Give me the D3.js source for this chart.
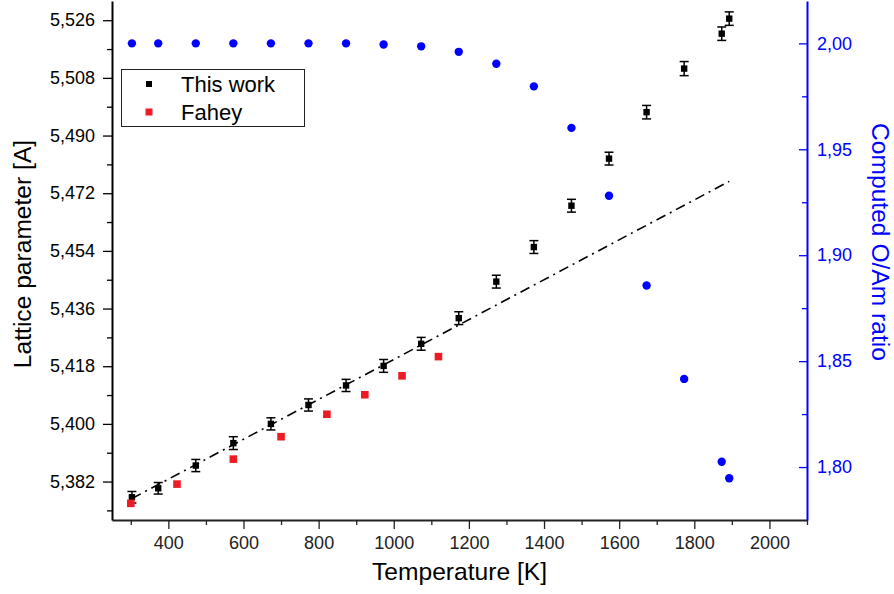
<!DOCTYPE html>
<html>
<head>
<meta charset="utf-8">
<script src="https://cdn.jsdelivr.net/npm/d3@7"></script>
<style>
  html, body { margin: 0; padding: 0; background: #fff; }
  svg { display: block; font-family: "Liberation Sans", Arial, sans-serif; }
</style>
</head>
<body>
<svg id="chart" width="894" height="594"></svg>
<script>
// ---- data ----
const thisWorkT = [303, 373, 473, 573, 673, 773, 873, 973, 1073, 1173, 1273, 1373, 1473, 1573, 1673, 1773, 1873, 1893];
const thisWorkA = [5.3771, 5.3799, 5.3870, 5.3940, 5.4000, 5.4059, 5.4120, 5.4181, 5.4250, 5.4330, 5.4444, 5.4552, 5.4681, 5.4828, 5.4973, 5.5109, 5.5218, 5.5265];
const thisWorkErr = [0.0018, 0.0018, 0.0019, 0.0020, 0.0019, 0.0019, 0.0019, 0.0020, 0.0020, 0.0020, 0.0020, 0.0020, 0.0020, 0.0020, 0.0021, 0.0022, 0.0021, 0.0021];

const faheyT = [300, 423, 573, 700, 822, 923, 1022, 1119];
const faheyA = [5.3752, 5.3812, 5.3890, 5.3960, 5.4030, 5.4091, 5.4150, 5.4210];

const ratioT = [303, 373, 473, 573, 673, 773, 873, 973, 1073, 1173, 1273, 1373, 1473, 1573, 1673, 1773, 1873, 1893];
const ratioV = [2.000, 2.000, 2.000, 2.000, 2.000, 2.000, 2.000, 1.9995, 1.9986, 1.9960, 1.9904, 1.9797, 1.9601, 1.9281, 1.8857, 1.8416, 1.8025, 1.7947];

const fitT = [303, 1893];
const fitA = [5.3767, 5.4757];

const xMajorTicks = [400, 600, 800, 1000, 1200, 1400, 1600, 1800, 2000];
const xMinorTicks = [300, 500, 700, 900, 1100, 1300, 1500, 1700, 1900, 2100];
const yLeftMajorTicks = [5.382, 5.400, 5.418, 5.436, 5.454, 5.472, 5.490, 5.508, 5.526];
const yLeftMinorTicks = [5.373, 5.391, 5.409, 5.427, 5.445, 5.463, 5.481, 5.499, 5.517];
const yRightMajorTicks = [1.80, 1.85, 1.90, 1.95, 2.00];
const yRightMinorTicks = [1.825, 1.875, 1.925, 1.975];

const legendLabels = ["This work", "Fahey"];

// ---- layout ----
const svg = d3.select("#chart");
const L = 112, R = 807, T = 1, B = 520;
const BLUE = "#0000ff", RED = "#ed1c24";

const x = d3.scaleLinear().domain([250, 2100]).range([L, R]);
const yL = d3.scaleLinear().domain([5.370, 5.532]).range([B, T]);
const yR = d3.scaleLinear().domain([1.775, 2.02]).range([B, T]);

const comma = f => v => d3.format(f)(v).replace(".", ",");

// Blue ratio circles
svg.append("g").selectAll("circle").data(ratioT).join("circle")
  .attr("cx", (d) => x(d))
  .attr("cy", (d, i) => yR(ratioV[i]))
  .attr("r", 4.2)
  .attr("fill", BLUE);

// Fit line (dash-dot)
svg.append("path")
  .datum(fitT.map((t, i) => [t, fitA[i]]))
  .attr("d", d3.line().x(d => x(d[0])).y(d => yL(d[1])))
  .attr("fill", "none").attr("stroke", "#000").attr("stroke-width", 1.6)
  .attr("stroke-dasharray", "10,5,2,5");

// This work: error bars + squares
const tw = svg.append("g");
thisWorkT.forEach((t, i) => {
  const cx = x(t), top = yL(thisWorkA[i] + thisWorkErr[i]), bot = yL(thisWorkA[i] - thisWorkErr[i]);
  tw.append("line").attr("x1", cx).attr("x2", cx).attr("y1", top).attr("y2", bot)
    .attr("stroke", "#000").attr("stroke-width", 1.5);
  [top, bot].forEach(yy => tw.append("line").attr("x1", cx - 4.5).attr("x2", cx + 4.5)
    .attr("y1", yy).attr("y2", yy).attr("stroke", "#000").attr("stroke-width", 1.5));
  tw.append("rect").attr("x", cx - 3.2).attr("y", yL(thisWorkA[i]) - 3.2)
    .attr("width", 6.4).attr("height", 6.4).attr("fill", "#000");
});

// Fahey red squares
svg.append("g").selectAll("rect").data(faheyT).join("rect")
  .attr("x", d => x(d) - 3.8)
  .attr("y", (d, i) => yL(faheyA[i]) - 3.8)
  .attr("width", 7.6).attr("height", 7.6)
  .attr("fill", RED);

// ---- axes ----
function styleAxis(g, color, width) {
  g.select(".domain").attr("stroke", color).attr("stroke-width", width);
  g.selectAll(".tick line").attr("stroke", color).attr("stroke-width", 1.3);
  g.selectAll(".tick text").attr("fill", color).style("font-size", "18px")
    .style("font-family", "'Liberation Sans', Arial, sans-serif");
}

// Bottom axis
const gxMinor = svg.append("g").attr("transform", `translate(0,${B})`)
  .call(d3.axisBottom(x).tickValues(xMinorTicks).tickSize(5).tickFormat(""));
gxMinor.select(".domain").remove();
gxMinor.selectAll(".tick line").attr("stroke", "#222").attr("stroke-width", 1.3);
const gx = svg.append("g").attr("transform", `translate(0,${B})`)
  .call(d3.axisBottom(x).tickValues(xMajorTicks).tickSizeInner(9).tickSizeOuter(0).tickPadding(7).tickFormat(d3.format("d")));
styleAxis(gx, "#222", 2);

// Left axis
const gyMinor = svg.append("g").attr("transform", `translate(${L},0)`)
  .call(d3.axisLeft(yL).tickValues(yLeftMinorTicks).tickSize(5).tickFormat(""));
gyMinor.select(".domain").remove();
gyMinor.selectAll(".tick line").attr("stroke", "#000").attr("stroke-width", 1.3);
const gy = svg.append("g").attr("transform", `translate(${L},0)`)
  .call(d3.axisLeft(yL).tickValues(yLeftMajorTicks).tickSizeInner(9).tickSizeOuter(0).tickPadding(8).tickFormat(comma(".3f")));
styleAxis(gy, "#000", 2);

// Right axis (ticks pointing inward)
const grMinor = svg.append("g").attr("transform", `translate(${R},0)`)
  .call(d3.axisRight(yR).tickValues(yRightMinorTicks).tickSize(-5).tickFormat(""));
grMinor.select(".domain").remove();
grMinor.selectAll(".tick line").attr("stroke", BLUE).attr("stroke-width", 1.3);
const gr = svg.append("g").attr("transform", `translate(${R},0)`)
  .call(d3.axisRight(yR).tickValues(yRightMajorTicks).tickSizeInner(-8).tickSizeOuter(0).tickPadding(10).tickFormat(comma(".2f")));
styleAxis(gr, BLUE, 2);

// ---- titles ----
svg.append("text").attr("x", (L + R) / 2).attr("y", 580)
  .attr("text-anchor", "middle").style("font-size", "24.6px").attr("fill", "#000")
  .text("Temperature [K]");

svg.append("text").attr("transform", "translate(31,254) rotate(-90)")
  .attr("text-anchor", "middle").style("font-size", "24.6px").attr("fill", "#000")
  .text("Lattice parameter [A]");

svg.append("text").attr("transform", "translate(872,242) rotate(90)")
  .attr("text-anchor", "middle").style("font-size", "24.6px").attr("fill", BLUE)
  .text("Computed O/Am ratio");

// ---- legend ----
const lg = svg.append("g");
lg.append("rect").attr("x", 121.5).attr("y", 69.5).attr("width", 183).attr("height", 57)
  .attr("fill", "#fff").attr("stroke", "#222").attr("stroke-width", 1);
const legendColors = ["#000", RED];
const legendSizes = [6, 7];
legendLabels.forEach((lab, i) => {
  const cy = 84 + i * 28;
  lg.append("rect").attr("x", 149 - legendSizes[i] / 2).attr("y", cy - legendSizes[i] / 2)
    .attr("width", legendSizes[i]).attr("height", legendSizes[i]).attr("fill", legendColors[i]);
  lg.append("text").attr("x", 181).attr("y", cy + 8)
    .style("font-size", "22px").attr("fill", "#000").text(lab);
});
</script>
</body>
</html>
